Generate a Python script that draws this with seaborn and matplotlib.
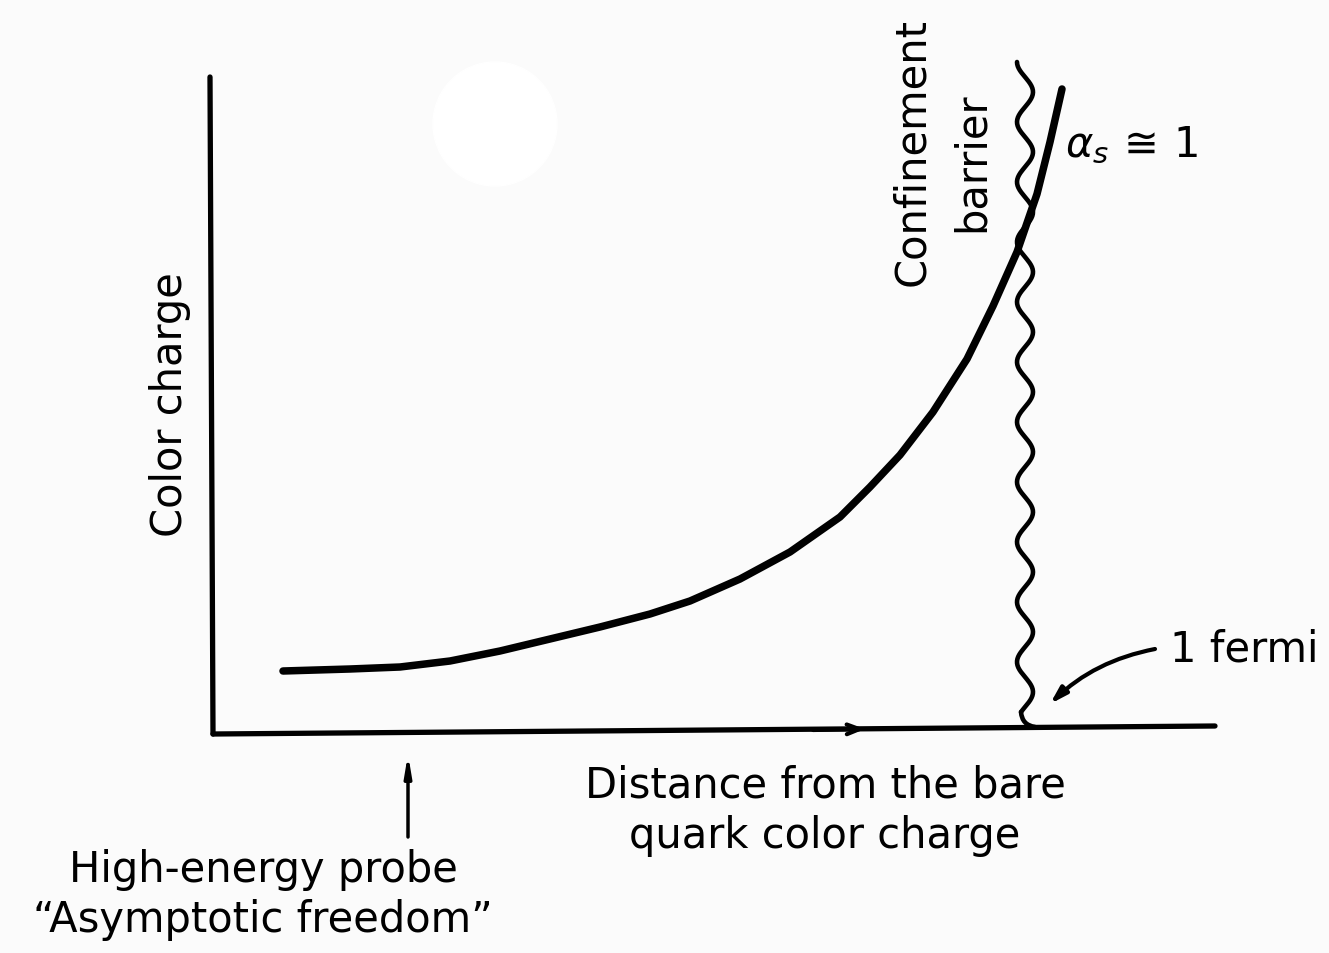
import numpy as np
import matplotlib.pyplot as plt
import seaborn as sns
from matplotlib.patches import Circle

# curve (distance, colour charge), arbitrary units
distance = [0.70, 1.37, 1.87, 2.37, 2.87, 3.37, 3.87, 4.37, 4.77, 5.27,
            5.77, 6.27, 6.57, 6.87, 7.20, 7.54, 7.80, 8.04, 8.24, 8.37, 8.49]
charge = [0.63, 0.65, 0.67, 0.73, 0.83, 0.95, 1.07, 1.20, 1.33, 1.55,
          1.82, 2.17, 2.47, 2.79, 3.22, 3.75, 4.28, 4.82, 5.40, 5.92, 6.45]

# axes of the sketch
x_axis_dist = [0.0, 10.02]
x_axis_charge = [0.0, 0.08]
y_axis_dist = [0.0, -0.03]
y_axis_charge = [0.0, 6.57]

barrier_pos = 8.12      # "1 fermi"
barrier_top = 6.72
barrier_bottom = 0.12

sns.set_style("white")
plt.rcParams['font.family'] = ['DejaVu Sans']
plt.rcParams['text.color'] = 'black'

fig = plt.figure(figsize=(13.29, 9.54), dpi=100, facecolor="#fbfbfb")
ax = fig.add_axes([0, 0, 1, 1])
ax.set_facecolor("#fbfbfb")
ax.set_xlim(-2.13, 11.16)
ax.set_ylim(-2.19, 7.35)
ax.axis("off")

ax.add_patch(Circle((2.82, 6.10), 0.62, color="white", zorder=0))

# axes lines
sns.lineplot(x=x_axis_dist, y=x_axis_charge, ax=ax, color="black", lw=3.8,
             solid_capstyle="round", sort=False)
sns.lineplot(x=y_axis_dist, y=y_axis_charge, ax=ax, color="black", lw=3.8,
             solid_capstyle="round", sort=False)

# running colour charge
sns.lineplot(x=distance, y=charge, ax=ax, color="black", lw=5.4,
             solid_capstyle="round", solid_joinstyle="round", sort=False, zorder=4)

# wavy confinement barrier (decorative squiggle)
yy = np.linspace(barrier_bottom + 0.1, barrier_top, 600)
xx = barrier_pos + 0.08 * np.sin(2 * np.pi * (barrier_top - yy) / 0.6 - np.pi / 2)
ax.plot(xx, yy, color="black", lw=3.3, zorder=3, solid_capstyle="round")
ax.annotate("", xy=(8.22, 0.07), xytext=(xx[0], yy[0]),
            arrowprops=dict(arrowstyle="-", color="black", lw=3.3,
                            shrinkA=0, shrinkB=0,
                            connectionstyle="arc3,rad=0.4"))

# arrow on x axis
ax.annotate("", xy=(6.52, 0.05), xytext=(6.0, 0.04),
            arrowprops=dict(arrowstyle="->,head_length=0.9,head_width=0.35",
                            color="black", lw=3, shrinkA=0, shrinkB=0))

# high-energy probe arrow
ax.annotate("", xy=(1.95, -0.2), xytext=(1.95, -1.03),
            arrowprops=dict(arrowstyle="-|>,head_length=1.2,head_width=0.2",
                            color="black", lw=2.5, shrinkA=0, shrinkB=0))

# 1 fermi arrow
ax.annotate("", xy=(8.37, 0.30), xytext=(9.42, 0.85),
            arrowprops=dict(arrowstyle="-|>,head_length=1.0,head_width=0.3",
                            color="black", lw=3, shrinkA=0, shrinkB=0,
                            connectionstyle="arc3,rad=0.15"))

fs = 30
ax.text(-0.43, 3.30, "Color charge", rotation=90, ha="center", va="center", fontsize=fs)
ax.text(6.99, 5.83, "Confinement", rotation=90, ha="center", va="center", fontsize=fs)
ax.text(7.59, 5.73, "barrier", rotation=90, ha="center", va="center", fontsize=fs)
ax.text(8.52, 5.90, r"$\alpha_s\,\cong\,1$", ha="left", va="center", fontsize=fs)
ax.text(9.57, 0.85, "1 fermi", ha="left", va="center", fontsize=fs)
ax.text(6.12, -0.76, "Distance from the bare\nquark color charge", ha="center",
        va="center", fontsize=fs, linespacing=1.25)
ax.text(0.50, -1.60, "High-energy probe\n\u201cAsymptotic freedom\u201d", ha="center",
        va="center", fontsize=fs, linespacing=1.25)

fig.savefig("out.png", dpi=100, facecolor=fig.get_facecolor())
